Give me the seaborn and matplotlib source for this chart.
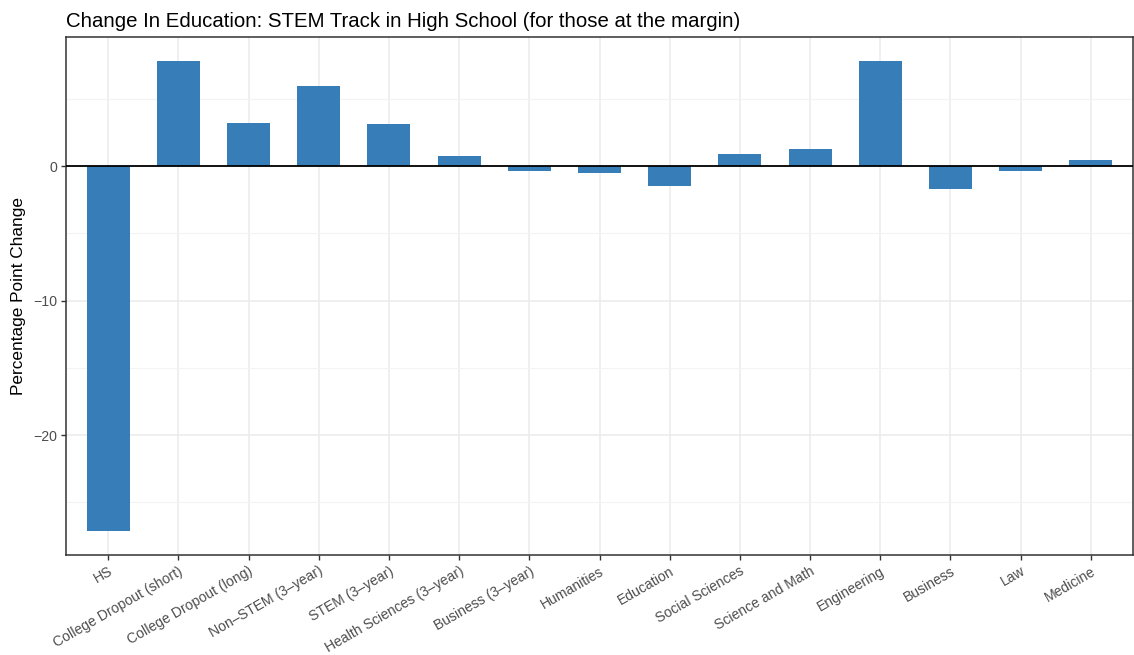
import matplotlib
matplotlib.use("Agg")
import matplotlib.pyplot as plt
import seaborn as sns
import pandas as pd
from matplotlib.ticker import FixedLocator

categories = ["HS", "College Dropout (short)", "College Dropout (long)", "Non\u2013STEM (3\u2013year)",
              "STEM (3\u2013year)", "Health Sciences (3\u2013year)", "Business (3\u2013year)", "Humanities",
              "Education", "Social Sciences", "Science and Math", "Engineering", "Business", "Law", "Medicine"]
values = [-27.16, 7.85, 3.19, 5.93, 3.11, 0.74, -0.37, -0.49, -1.46, 0.89, 1.26, 7.78, -1.70, -0.37, 0.44]
yticks = [-20, -10, 0]
ytick_labels = ["\u221220", "\u221210", "0"]

df = pd.DataFrame({"cat": categories, "val": values})

sns.set_theme(style="white")
plt.rcParams['font.family'] = ['Liberation Sans', 'DejaVu Sans']

fig = plt.figure(figsize=(11.34, 6.55), dpi=100)
ax = fig.add_axes([66/1134, 1-555/655, (1133-66)/1134, (555-37)/655])

sns.barplot(data=df, x="cat", y="val", color="#377EB8", saturation=1, width=0.61,
            linewidth=0, edgecolor="none", ax=ax, zorder=3)
ax.axhline(0, color="black", lw=1.3, zorder=4)

ax.set_xlim(-0.6, 14.6)
ax.set_ylim(-28.91, 9.6)
ax.set_yticks(yticks)
ax.set_yticklabels(ytick_labels)
ax.yaxis.set_minor_locator(FixedLocator([-25, -15, -5, 5]))
ax.grid(True, which="major", color="#EBEBEB", lw=1.1, zorder=0)
ax.grid(True, which="minor", axis="y", color="#F3F3F3", lw=0.8, zorder=0)
ax.set_axisbelow(True)

ax.set_xticks(range(len(categories)))
ax.set_xticklabels(categories, rotation=30, ha="right", rotation_mode="anchor", fontsize=10.1, color="#4D4D4D")
ax.tick_params(axis="y", labelsize=10.2, labelcolor="#4D4D4D")
ax.tick_params(axis="both", which="major", length=3.5, width=1, color="#333333", bottom=True, left=True, pad=3)
ax.tick_params(axis="both", which="minor", length=0)

for s in ax.spines.values():
    s.set_color("#333333")
    s.set_linewidth(1.1)

ax.set_xlabel("")
ax.set_ylabel("Percentage Point Change", fontsize=12.4, color="black", labelpad=5)
ax.set_title("Change In Education: STEM Track in High School (for those at the margin)",
             fontsize=14.7, loc="left", x=0, pad=7, color="black")

fig.savefig("out.png", dpi=100)
